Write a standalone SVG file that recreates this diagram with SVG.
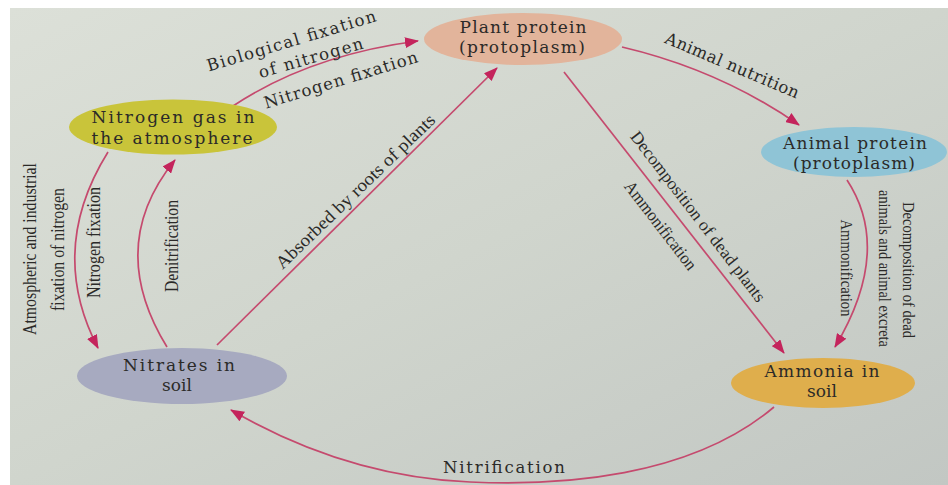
<svg xmlns="http://www.w3.org/2000/svg" width="948" height="485" viewBox="0 0 948 485">
<defs>
<linearGradient id="page" x1="0" y1="0" x2="1" y2="1">
<stop offset="0" stop-color="#dce0d8"/>
<stop offset="0.5" stop-color="#d0d5cd"/>
<stop offset="1" stop-color="#c2c7c3"/>
</linearGradient>
<marker id="arr" viewBox="0 0 14 11" refX="13" refY="5.5" markerWidth="14" markerHeight="11" markerUnits="userSpaceOnUse" orient="auto">
<path d="M0,0 L14,5.5 L0,11 z" fill="#c4245c"/>
</marker>
<style>
.c{fill:none;stroke:#c54a6e;stroke-width:1.7;marker-end:url(#arr)}
.n{font-family:"DejaVu Serif","Liberation Serif",serif;font-size:17px;fill:#2b2a28;text-anchor:middle}
.p{font-family:"DejaVu Serif","Liberation Serif",serif;font-size:16.5px;fill:#2b2a28;text-anchor:middle}
.t{font-family:"Liberation Serif",serif;font-size:16px;fill:#2b2a28;text-anchor:middle}
.tl{font-family:"Liberation Serif",serif;font-size:18px;fill:#2b2a28;text-anchor:middle}
</style>
</defs>
<rect width="948" height="485" fill="#ffffff"/>
<rect x="10" y="8" width="938" height="477" fill="url(#page)"/>

<g id="connectors">
<path class="c" d="M233,106 Q310,55 418,41"/>
<path class="c" d="M622,47 Q720,70 799,125"/>
<path class="c" d="M564,72 L784,353"/>
<path class="c" d="M847,180 Q893,250 835,347"/>
<path class="c" d="M774,407 C690,478 560,486 470,482 C380,478 300,450 231,410"/>
<path class="c" d="M108,152 Q47,250 98,348"/>
<path class="c" d="M167,347 Q105,246 175,160"/>
<path class="c" d="M217,345 L497,68"/>
</g>

<g id="labels">
<text class="p" transform="translate(291.5,41.5) rotate(-16.7)" y="5" textLength="176" lengthAdjust="spacing">Biological fixation</text>
<text class="p" transform="translate(311,58.5) rotate(-16)" y="5" textLength="108" lengthAdjust="spacing">of nitrogen</text>
<text class="p" transform="translate(341,80.5) rotate(-17)" y="5" textLength="160" lengthAdjust="spacing">Nitrogen fixation</text>
<text class="p" transform="translate(732,66) rotate(23)" y="5" textLength="144" lengthAdjust="spacing">Animal nutrition</text>
<text class="t" transform="translate(697.5,217) rotate(52.5)" y="5" textLength="210" lengthAdjust="spacingAndGlyphs" style="font-size:17.5px">Decomposition of dead plants</text>
<text class="t" transform="translate(660,226) rotate(52.5)" y="5" textLength="107" lengthAdjust="spacingAndGlyphs" style="font-size:17.5px">Ammonification</text>
<text class="tl" transform="translate(356,192) rotate(-44)" y="5" textLength="214" lengthAdjust="spacingAndGlyphs">Absorbed by roots of plants</text>
<text class="t" transform="translate(903,270) rotate(90)" textLength="136" lengthAdjust="spacingAndGlyphs">Decomposition of dead</text>
<text class="t" transform="translate(879,268.5) rotate(90)" textLength="157" lengthAdjust="spacingAndGlyphs">animals and animal excreta</text>
<text class="t" transform="translate(841,268) rotate(90)" textLength="97" lengthAdjust="spacingAndGlyphs">Ammonification</text>
<text class="tl" transform="translate(36,249) rotate(-90)" textLength="172" lengthAdjust="spacingAndGlyphs">Atmospheric and industrial</text>
<text class="tl" transform="translate(64,249.5) rotate(-90)" textLength="123" lengthAdjust="spacingAndGlyphs">fixation of nitrogen</text>
<text class="tl" transform="translate(100,242.5) rotate(-90)" textLength="111" lengthAdjust="spacingAndGlyphs">Nitrogen fixation</text>
<text class="tl" transform="translate(178,246) rotate(-90)" textLength="92" lengthAdjust="spacingAndGlyphs">Denitrification</text>
<text class="p" x="504" y="473" textLength="122" lengthAdjust="spacing">Nitrification</text>
</g>

<g id="plant-protein">
<ellipse cx="523" cy="39" rx="99" ry="26" fill="#e2b49b"/>
<text class="n" x="523" y="33" textLength="127" lengthAdjust="spacing">Plant protein</text>
<text class="n" x="522" y="53" textLength="126" lengthAdjust="spacing">(protoplasm)</text>
</g>
<g id="nitrogen-gas">
<ellipse cx="173" cy="127" rx="104" ry="27.5" fill="#c9c43a"/>
<text class="n" x="173" y="123" textLength="163" lengthAdjust="spacing">Nitrogen gas in</text>
<text class="n" x="172" y="144" textLength="161" lengthAdjust="spacing">the atmosphere</text>
</g>
<g id="animal-protein">
<ellipse cx="854" cy="152" rx="93" ry="25" fill="#8fc4d6"/>
<text class="n" x="855" y="149" textLength="144" lengthAdjust="spacing">Animal protein</text>
<text class="n" x="854" y="169" textLength="122" lengthAdjust="spacing">(protoplasm)</text>
</g>
<g id="nitrates">
<ellipse cx="182" cy="376" rx="105" ry="28" fill="#a7aac0"/>
<text class="n" x="179" y="371" textLength="112" lengthAdjust="spacing">Nitrates in</text>
<text class="n" x="177" y="391">soil</text>
</g>
<g id="ammonia">
<ellipse cx="823" cy="383" rx="92" ry="25" fill="#dfae4c"/>
<text class="n" x="822" y="377" textLength="115" lengthAdjust="spacing">Ammonia in</text>
<text class="n" x="822" y="397">soil</text>
</g>
</svg>
